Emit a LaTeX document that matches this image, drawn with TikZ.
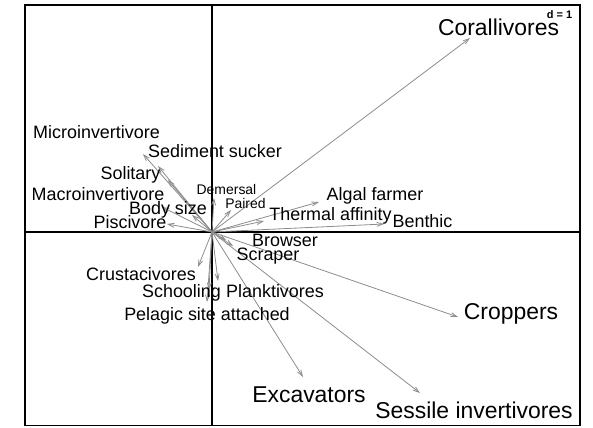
\documentclass[tikz,border=0pt]{standalone}
\usepackage{fontspec}
\setmainfont{Liberation Sans}
\usetikzlibrary{arrows.meta}
\tikzset{
  frame/.style={line width=1.4bp, draw=black},
  axis/.style={line width=1.4bp, draw=black},
  arr/.style={draw=black!45, line width=0.8bp, -{Straight Barb[length=6bp,width=4bp]}},
  lab/.style={inner sep=0pt, anchor=base, text=black},
  big/.style={lab, font=\fontsize{23}{23}\selectfont},
  mid/.style={lab, font=\fontsize{18}{18}\selectfont},
  sml/.style={lab, font=\fontsize{14}{14}\selectfont},
}
\begin{document}
\begin{tikzpicture}[x=1bp,y=-1bp]
\useasboundingbox (0,0) rectangle (593,427);
% frame and axes
\coordinate (tl) at (25,5);
\coordinate (br) at (580,425.5);
\draw[frame] (tl) rectangle (br);
\coordinate (ax1) at (25,232);
\coordinate (ax2) at (580,232);
\coordinate (ay1) at (212,5);
\coordinate (ay2) at (212,425.5);
\draw[axis] (ax1) -- (ax2);
\draw[axis] (ay1) -- (ay2);
\coordinate (o) at (212,232);
% arrow ends
\coordinate (eCor) at (470,38);
\coordinate (eCro) at (458,317);
\coordinate (eSes) at (420,393);
\coordinate (eExc) at (303,377);
\coordinate (eBen) at (384,224);
\coordinate (eThe) at (264,221);
\coordinate (eAlg) at (319,202);
\coordinate (ePai) at (231,210);
\coordinate (eDem) at (214,198);
\coordinate (eMic) at (143,154);
\coordinate (eSed) at (158,166);
\coordinate (eSol) at (168,180);
\coordinate (eMac) at (162,207);
\coordinate (eBod) at (192,215);
\coordinate (ePis) at (167,224);
\coordinate (eCru) at (198,267);
\coordinate (eSch) at (207,302);
\coordinate (ePel) at (209,290);
\coordinate (ePla) at (218,281);
\coordinate (eBro) at (233,246);
\coordinate (eScr) at (226,240);
\foreach \e in {eCor,eCro,eSes,eExc,eBen,eThe,eAlg,ePai,eDem,eMic,eSed,eSol,eMac,eBod,ePis,eCru,eSch,ePel,ePla,eBro,eScr}
  \draw[arr] (o) -- (\e);
% labels
\node[big] (lCor) at (498.5,35) {Corallivores};
\node[big] (lCro) at (511,319) {Croppers};
\node[big] (lExc) at (309,402) {Excavators};
\node[big] (lSes) at (474,418) {Sessile invertivores};
\node[mid] (lMic) at (96.5,138) {Microinvertivore};
\node[mid] (lSed) at (215,157) {Sediment sucker};
\node[mid] (lSol) at (130.5,179.5) {Solitary};
\node[mid] (lMac) at (98,200) {Macroinvertivore};
\node[mid] (lBod) at (168,214.5) {Body size};
\node[mid] (lPis) at (130,228) {Piscivore};
\node[mid] (lThe) at (330.5,220.5) {Thermal affinity};
\node[mid] (lAlg) at (375,200.5) {Algal farmer};
\node[mid] (lBen) at (422.5,227) {Benthic};
\node[mid] (lBro) at (285,246) {Browser};
\node[mid] (lScr) at (268,260) {Scraper};
\node[mid] (lCru) at (141,280) {Crustacivores};
\node[mid] (lSch) at (181.5,297.5) {Schooling};
\node[mid] (lPla) at (275,297.5) {Planktivores};
\node[mid] (lPel) at (207,320.5) {Pelagic site attached};
\node[sml] (lDem) at (226.5,194) {Demersal};
\node[sml] (lPai) at (245.5,208) {Paired};
\node[lab, font=\fontsize{11}{11}\selectfont\bfseries] (ld) at (559.5,18) {d = 1};
\end{tikzpicture}
\end{document}
